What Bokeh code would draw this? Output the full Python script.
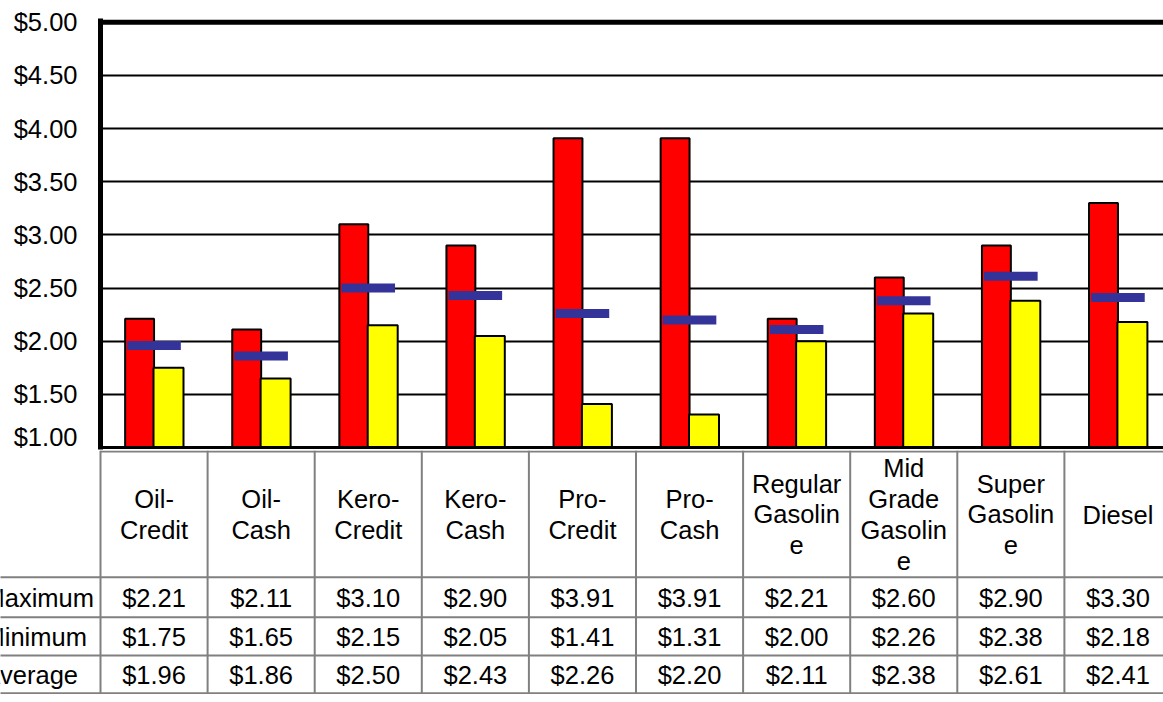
import numpy as np
from bokeh.plotting import figure
from bokeh.models import Range1d, FixedTicker, NumeralTickFormatter, Span
from bokeh.layouts import column
from bokeh.embed import file_html
from bokeh.resources import INLINE
from bokeh.core.properties import value

# ---- data ----
categories = ["Oil-\nCredit", "Oil-\nCash", "Kero-\nCredit", "Kero-\nCash",
              "Pro-\nCredit", "Pro-\nCash", "Regular\nGasolin\ne",
              "Mid\nGrade\nGasolin\ne", "Super\nGasolin\ne", "Diesel"]
maximum = [2.21, 2.11, 3.10, 2.90, 3.91, 3.91, 2.21, 2.60, 2.90, 3.30]
minimum = [1.75, 1.65, 2.15, 2.05, 1.41, 1.31, 2.00, 2.26, 2.38, 2.18]
average = [1.96, 1.86, 2.50, 2.43, 2.26, 2.20, 2.11, 2.38, 2.61, 2.41]
row_labels = ["Maximum", "Minimum", "Average"]
y_ticks = [1.0, 1.5, 2.0, 2.5, 3.0, 3.5, 4.0, 4.5, 5.0]

# ---- layout constants ----
FONT = "Liberation Sans"
FS = "25.5px"
CAT_PX = 107.1
LEFT = 100
FIG_W = 1163
x_end = (FIG_W - LEFT) / CAT_PX
xc = np.arange(len(categories)) + 0.5

# ---- chart ----
p = figure(width=FIG_W, height=450, x_range=Range1d(0, x_end),
           y_range=Range1d(0.981, 5.036), output_backend="svg",
           toolbar_location=None, min_border_left=LEFT, min_border_right=0,
           min_border_top=18, min_border_bottom=1, x_axis_location=None)
p.frame_align = False
p.outline_line_color = None
p.xgrid.visible = False
p.ygrid.ticker = FixedTicker(ticks=y_ticks)
p.ygrid.grid_line_color = "black"
p.ygrid.grid_line_width = 2
p.yaxis.ticker = FixedTicker(ticks=y_ticks)
p.yaxis.formatter = NumeralTickFormatter(format="$0.00")
p.yaxis.axis_line_width = 5
p.yaxis.axis_line_color = "black"
p.yaxis.major_tick_line_color = None
p.yaxis.minor_tick_line_color = None
p.yaxis.major_tick_out = 0
p.yaxis.major_tick_in = 0
p.yaxis.major_label_standoff = 23
p.yaxis.major_label_text_font = FONT
p.yaxis.major_label_text_font_size = FS
p.yaxis.major_label_text_color = "black"

p.vbar(x=xc - 0.135, top=maximum, bottom=1.0, width=0.27,
       fill_color="#FF0000", line_color="black", line_width=2)
p.vbar(x=xc + 0.135, top=minimum, bottom=1.0, width=0.28,
       fill_color="#FFFF00", line_color="black", line_width=2)
p.rect(x=xc, y=average, width=0.5, height=9, height_units="screen",
       fill_color="#333399", line_color=None)
p.add_layout(Span(location=5.0, dimension="width", line_color="black", line_width=5))
p.add_layout(Span(location=1.0, dimension="width", line_color="black", line_width=3))

# ---- data table ----
t = figure(width=FIG_W, height=244, x_range=Range1d(-LEFT / CAT_PX, x_end),
           y_range=Range1d(244, 0), output_backend="svg", toolbar_location=None,
           min_border=0, min_border_left=0, min_border_right=0,
           min_border_top=0, min_border_bottom=0,
           x_axis_location=None, y_axis_location=None)
t.frame_align = False
t.outline_line_color = None
t.grid.visible = False

GRAY = "#808080"
row_lines = [126.7, 166.7, 205, 242.7]
t.segment(x0=[0], x1=[10], y0=[1], y1=[1], line_color=GRAY, line_width=2)
t.segment(x0=[-2] * 4, x1=[10] * 4, y0=row_lines, y1=row_lines,
          line_color=GRAY, line_width=2)
vx = list(range(len(categories) + 1))
t.segment(x0=vx, x1=vx, y0=[0] * len(vx), y1=[242.7] * len(vx),
          line_color=GRAY, line_width=2)

t.text(x=xc, y=[64] * len(xc), text=categories, text_align="center",
       text_baseline="middle", text_font=value(FONT), text_font_size=FS,
       text_line_height=1.1, text_color="black")

row_centers = [147.5, 186.5, 224.5]
for vals, yc in zip([maximum, minimum, average], row_centers):
    t.text(x=xc, y=[yc] * len(xc), text=[f"${v:.2f}" for v in vals],
           text_align="center", text_baseline="middle", text_font=value(FONT),
           text_font_size=FS, text_color="black")

t.text(x=[(-17 - LEFT) / CAT_PX] * 3, y=row_centers, text=row_labels,
       text_align="left", text_baseline="middle", text_font=value(FONT),
       text_font_size=FS, text_color="black")

layout = column(p, t)
open("out.html", "w").write(file_html(layout, INLINE))
